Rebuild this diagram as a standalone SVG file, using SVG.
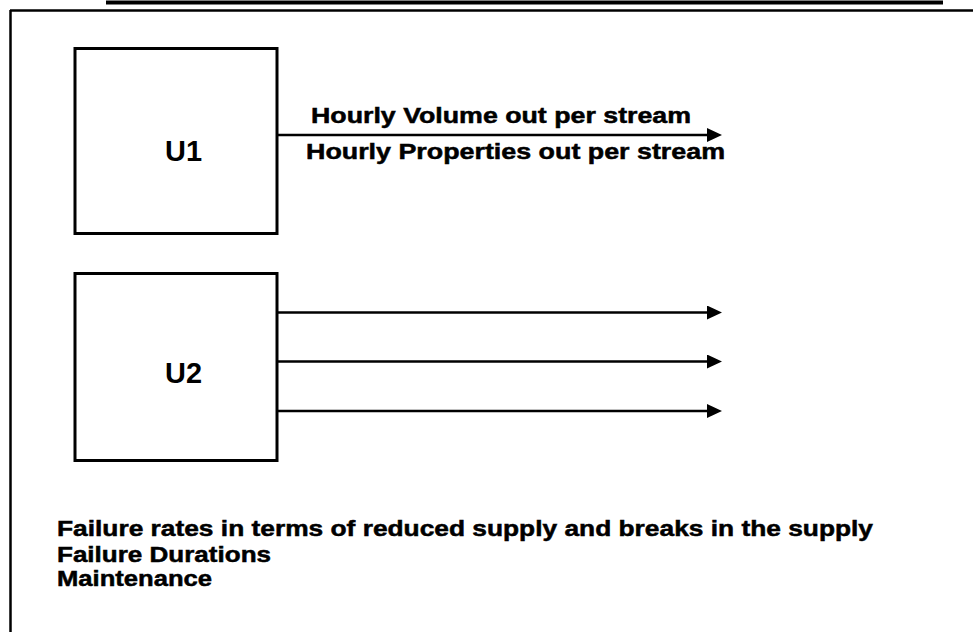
<svg xmlns="http://www.w3.org/2000/svg" width="973" height="632" viewBox="0 0 973 632">
<style>
.box{fill:#fff;stroke:#000;stroke-width:3}
.conn{stroke:#000;stroke-width:2.5;fill:none}
.lbl{font-family:"Liberation Sans",Arial,sans-serif;font-size:29px;font-weight:bold;fill:#000}
.txt{font-family:"Liberation Sans",Arial,sans-serif;font-size:22px;font-weight:bold;fill:#000;stroke:#000;stroke-width:0.5}
</style>
<defs>
<marker id="ah" markerUnits="userSpaceOnUse" markerWidth="15" markerHeight="14" viewBox="0 0 15 14" refX="5" refY="7" orient="auto">
<path d="M0,0 L15,7 L0,14 z" fill="#000"/>
</marker>
</defs>
<rect width="973" height="632" fill="#fff"/>
<g id="frame">
<line x1="106" y1="2.5" x2="943" y2="2.5" stroke="#000" stroke-width="4"/>
<line x1="10" y1="10.5" x2="973" y2="10.5" stroke="#000" stroke-width="2.5"/>
<line x1="10.5" y1="10" x2="10.5" y2="632" stroke="#000" stroke-width="2.5"/>
</g>
<g id="U1">
<rect class="box" x="75" y="48.5" width="202" height="185"/>
<text class="lbl" x="165" y="161" textLength="37" lengthAdjust="spacingAndGlyphs">U1</text>
</g>
<g id="U2">
<rect class="box" x="75" y="273.5" width="202" height="187"/>
<text class="lbl" x="165" y="383" textLength="37" lengthAdjust="spacingAndGlyphs">U2</text>
</g>
<g id="connectors">
<line class="conn" x1="277" y1="135" x2="712" y2="135" marker-end="url(#ah)"/>
<line class="conn" x1="277" y1="312.5" x2="712" y2="312.5" marker-end="url(#ah)"/>
<line class="conn" x1="277" y1="361.5" x2="712" y2="361.5" marker-end="url(#ah)"/>
<line class="conn" x1="277" y1="411" x2="712" y2="411" marker-end="url(#ah)"/>
</g>
<g id="labels">
<text class="txt" x="311" y="123" textLength="380" lengthAdjust="spacingAndGlyphs">Hourly Volume out per stream</text>
<text class="txt" x="306" y="159" textLength="419" lengthAdjust="spacingAndGlyphs">Hourly Properties out per stream</text>
<text class="txt" x="57" y="536" textLength="816" lengthAdjust="spacingAndGlyphs">Failure rates in terms of reduced supply and breaks in the supply</text>
<text class="txt" x="57" y="562" textLength="214" lengthAdjust="spacingAndGlyphs">Failure Durations</text>
<text class="txt" x="57" y="586" textLength="155" lengthAdjust="spacingAndGlyphs">Maintenance</text>
</g>
</svg>
